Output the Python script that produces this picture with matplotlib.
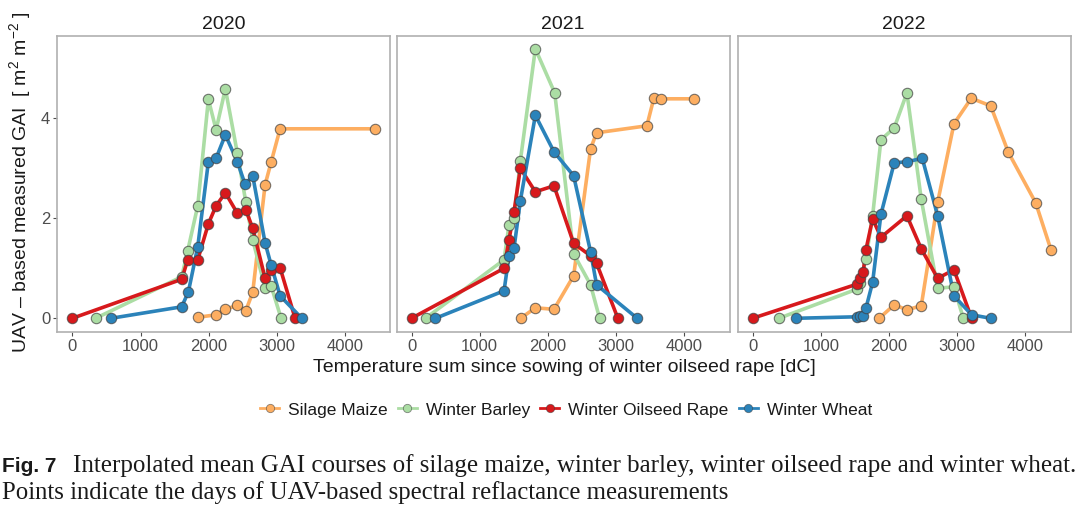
#!/usr/bin/env python3
"""
Courbes GAI moyennes interpolées (drone) par culture, 2020-2022.
Trois panneaux (facettes) + légende en bas + légende de figure.
"""

import matplotlib
matplotlib.use("Agg")
import matplotlib.pyplot as plt
from matplotlib.lines import Line2D

plt.rcParams["font.family"] = ["Liberation Sans", "DejaVu Sans"]
plt.rcParams["mathtext.fontset"] = "custom"
plt.rcParams["mathtext.rm"] = "Liberation Sans"
plt.rcParams["mathtext.it"] = "Liberation Sans:italic"

# ==============================================================================
# DONNÉES
# ==============================================================================

YEARS = ["2020", "2021", "2022"]
CROPS = ["Silage Maize", "Winter Barley", "Winter Oilseed Rape", "Winter Wheat"]
COLORS = ["#FDAE61", "#ABDDA4", "#D7191C", "#2B83BA"]

# --- 2020 ---
maize_2020_x  = [1838, 2107, 2243, 2419, 2542, 2644, 2825, 2913, 3045, 4438]
maize_2020_y  = [0.02, 0.07, 0.18, 0.26, 0.15, 0.52, 2.67, 3.12, 3.79, 3.79]
barley_2020_x = [342, 1603, 1691, 1838, 1994, 2107, 2243, 2419, 2542, 2644,
                 2825, 2913, 3060]
barley_2020_y = [0.0, 0.83, 1.35, 2.25, 4.38, 3.77, 4.59, 3.30, 2.33, 1.57,
                 0.61, 0.65, 0.0]
rape_2020_x   = [0, 1603, 1691, 1838, 1994, 2107, 2243, 2419, 2542, 2644,
                 2825, 2913, 3045, 3265]
rape_2020_y   = [0.0, 0.78, 1.17, 1.17, 1.89, 2.25, 2.51, 2.10, 2.17, 1.80,
                 0.80, 0.97, 1.01, 0.0]
wheat_2020_x  = [567, 1603, 1701, 1838, 1994, 2107, 2243, 2419, 2532, 2644,
                 2825, 2913, 3045, 3363]
wheat_2020_y  = [0.0, 0.23, 0.53, 1.43, 3.13, 3.20, 3.67, 3.13, 2.68, 2.85,
                 1.51, 1.07, 0.45, 0.0]

# --- 2021 ---
maize_2021_x  = [1600, 1815, 2088, 2376, 2624, 2712, 3449, 3551, 3659, 4146]
maize_2021_y  = [0.0, 0.21, 0.18, 0.85, 3.39, 3.71, 3.85, 4.40, 4.39, 4.39]
barley_2021_x = [205, 1356, 1429, 1502, 1595, 1815, 2098, 2376, 2624, 2756]
barley_2021_y = [0.0, 1.17, 1.87, 2.00, 3.15, 5.39, 4.51, 1.29, 0.67, 0.0]
rape_2021_x   = [0, 1356, 1429, 1502, 1595, 1815, 2088, 2376, 2624, 2712, 3024]
rape_2021_y   = [0.0, 1.00, 1.57, 2.13, 3.00, 2.53, 2.65, 1.50, 1.25, 1.10, 0.0]
wheat_2021_x  = [351, 1356, 1429, 1502, 1595, 1815, 2088, 2376, 2624, 2712, 3307]
wheat_2021_y  = [0.0, 0.55, 1.25, 1.40, 2.35, 4.06, 3.33, 2.85, 1.33, 0.67, 0.0]

# --- 2022 ---
maize_2022_x  = [1857, 2077, 2263, 2473, 2713, 2952, 3206, 3490, 3749, 4150, 4374]
maize_2022_y  = [0.0, 0.27, 0.17, 0.25, 2.32, 3.89, 4.40, 4.25, 3.32, 2.31, 1.37]
barley_2022_x = [386, 1525, 1574, 1662, 1760, 1882, 2077, 2263, 2473, 2713,
                 2952, 3089]
barley_2022_y = [0.0, 0.58, 0.71, 1.19, 2.05, 3.57, 3.81, 4.51, 2.38, 0.60,
                 0.63, 0.0]
rape_2022_x   = [0, 1525, 1574, 1623, 1662, 1760, 1882, 2263, 2473, 2713,
                 2952, 3211]
rape_2022_y   = [0.0, 0.68, 0.80, 0.93, 1.37, 1.99, 1.62, 2.05, 1.39, 0.80,
                 0.97, 0.0]
wheat_2022_x  = [630, 1525, 1574, 1623, 1662, 1760, 1882, 2077, 2263, 2488,
                 2713, 2952, 3211, 3490]
wheat_2022_y  = [0.0, 0.03, 0.05, 0.05, 0.20, 0.72, 2.08, 3.11, 3.13, 3.20,
                 2.05, 0.45, 0.07, 0.0]

SERIES = {
    "2020": [(maize_2020_x, maize_2020_y), (barley_2020_x, barley_2020_y),
             (rape_2020_x, rape_2020_y), (wheat_2020_x, wheat_2020_y)],
    "2021": [(maize_2021_x, maize_2021_y), (barley_2021_x, barley_2021_y),
             (rape_2021_x, rape_2021_y), (wheat_2021_x, wheat_2021_y)],
    "2022": [(maize_2022_x, maize_2022_y), (barley_2022_x, barley_2022_y),
             (rape_2022_x, rape_2022_y), (wheat_2022_x, wheat_2022_y)],
}

X_TICKS = [0, 1000, 2000, 3000, 4000]
Y_TICKS = [0, 2, 4]

# ==============================================================================
# FIGURE
# ==============================================================================

TICK_GREY = "#4D4D4D"
FRAME_GREY = "#B0B0B0"

fig = plt.figure(figsize=(10.8, 5.11), dpi=100)

panel_left = [57.3 / 1080, 396.5 / 1080, 737.5 / 1080]
panel_w = 333 / 1080
panel_bottom = 1 - 331.7 / 511
panel_h = (331.7 - 36) / 511

for i, year in enumerate(YEARS):
    ax = fig.add_axes([panel_left[i], panel_bottom, panel_w, panel_h])

    # lignes d'abord, puis points (ordre ggplot)
    for (xs, ys), col in zip(SERIES[year], COLORS):
        ax.plot(xs, ys, color=col, lw=2.6, solid_capstyle="round", zorder=2)
    for (xs, ys), col in zip(SERIES[year], COLORS):
        ax.plot(xs, ys, ls="none", marker="o", ms=7.5, mfc=col,
                mec=(0.25, 0.25, 0.25, 0.7), mew=0.8, zorder=3)

    ax.set_xlim(-220, 4660)
    ax.set_ylim(-0.268, 5.646)
    ax.set_xticks(X_TICKS)
    ax.set_yticks(Y_TICKS)
    ax.tick_params(colors=TICK_GREY, labelcolor=TICK_GREY, labelsize=12,
                   length=3, width=0.8, pad=2)
    if i > 0:
        ax.tick_params(axis="y", left=False, labelleft=False)
    for sp in ax.spines.values():
        sp.set_color(FRAME_GREY)
        sp.set_linewidth(1.2)
    ax.set_title(year, fontsize=14, color="#1A1A1A", pad=5)

# --- titres des axes ---
fig.text(564 / 1080, 1 - 367 / 511,
         "Temperature sum since sowing of winter oilseed rape [dC]",
         ha="center", va="center", fontsize=14, color="#1A1A1A")
fig.text(20 / 1080, 1 - 182 / 511,
         r"UAV – based measured GAI  [ m$^{2}$ m$^{-2}$ ]",
         ha="center", va="center", rotation=90, fontsize=14, color="#1A1A1A")

# --- légende ---
handles = [Line2D([], [], color=c, lw=2, marker="o", ms=6, mfc=c,
                  mec=(0.25, 0.25, 0.25, 0.6), mew=0.6) for c in COLORS]
fig.legend(handles, CROPS, loc="center", bbox_to_anchor=(566 / 1080, 1 - 410 / 511),
           ncol=4, frameon=False, fontsize=12.5, handlelength=1.1,
           handletextpad=0.5, columnspacing=0.6, labelcolor="#1A1A1A")

# --- légende de la figure (caption) ---
fig.text(2 / 1080, 1 - 466 / 511, "Fig. 7", ha="left", va="center",
         fontsize=15, fontweight="bold",
         family=["Liberation Sans Narrow", "Liberation Sans"], color="#1A1A1A")
fig.text(73 / 1080, 1 - 466 / 511,
         "Interpolated mean GAI courses of silage maize, winter barley, "
         "winter oilseed rape and winter wheat.",
         ha="left", va="center", fontsize=18, family="Liberation Serif",
         color="#1A1A1A")
fig.text(2 / 1080, 1 - 493 / 511,
         "Points indicate the days of UAV-based spectral reflactance measurements",
         ha="left", va="center", fontsize=17.8, family="Liberation Serif",
         color="#1A1A1A")

fig.savefig("out.png", dpi=100)
